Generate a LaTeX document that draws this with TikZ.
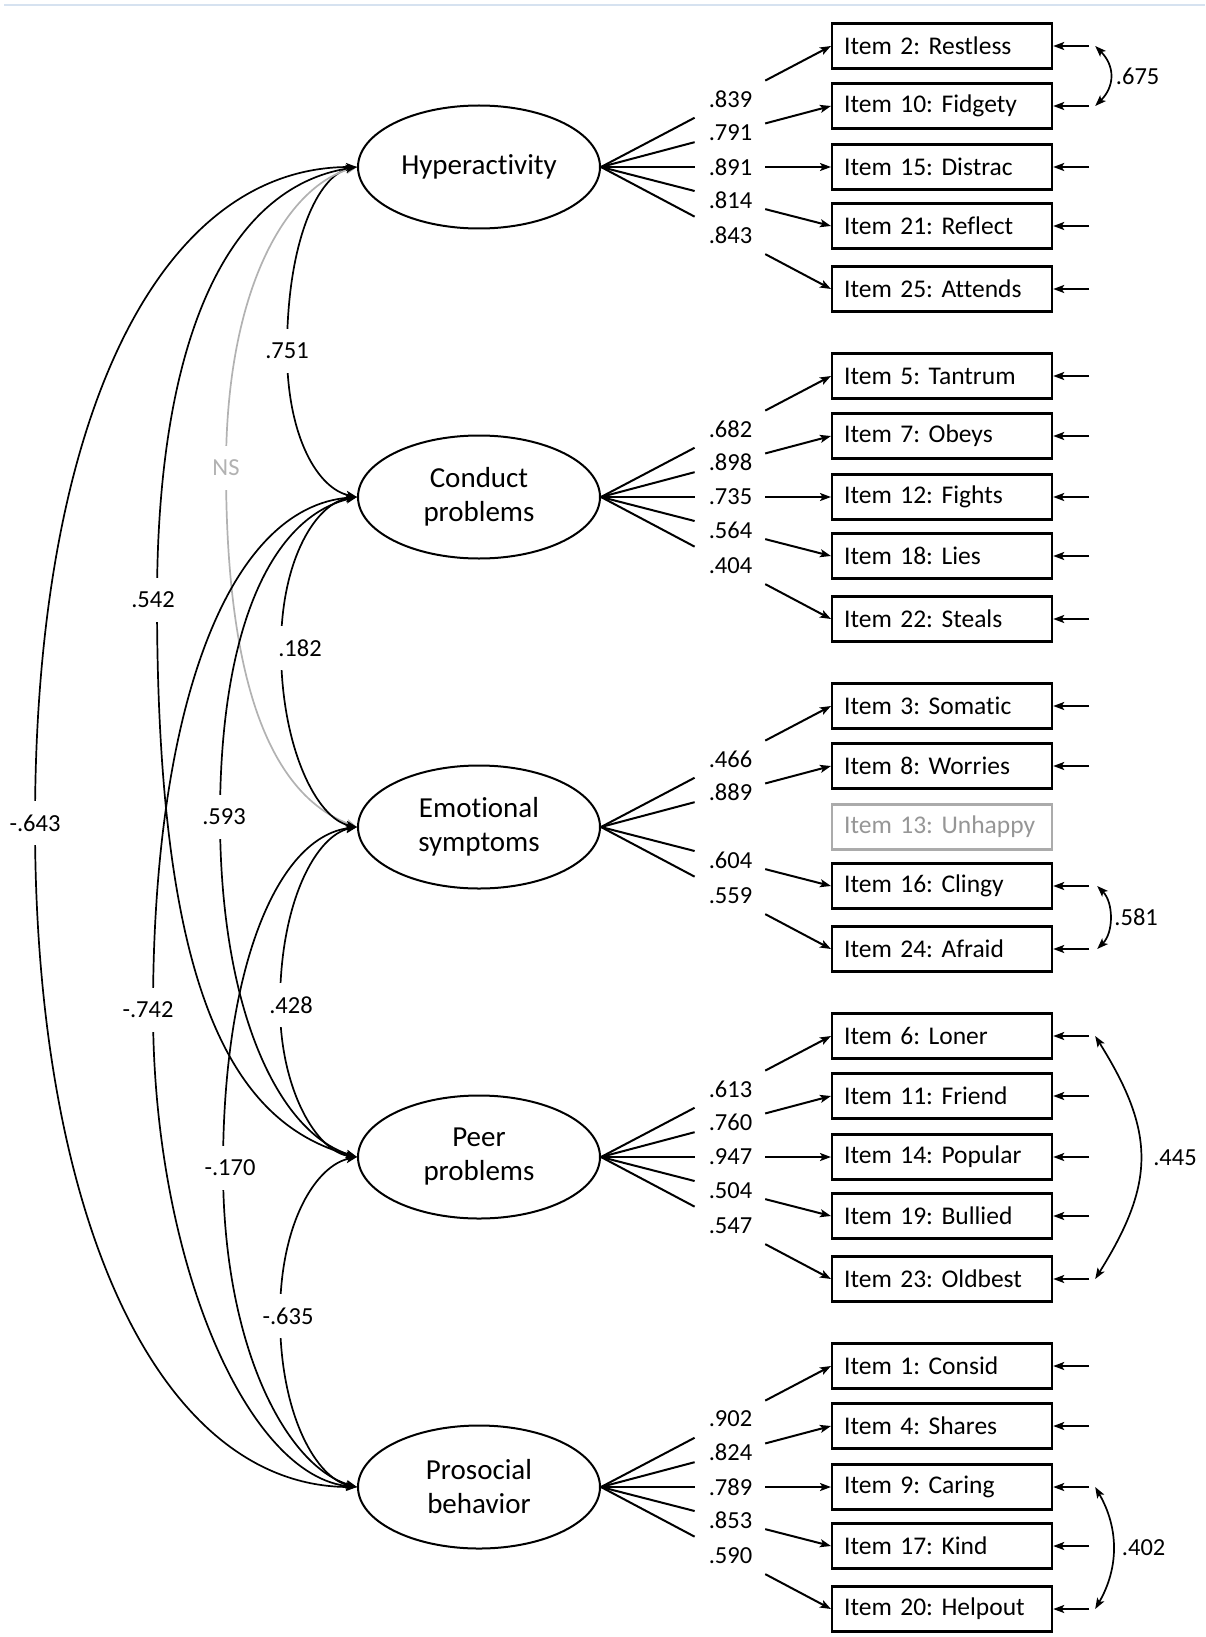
\documentclass[tikz,border=0pt]{standalone}
\usepackage{fontspec}
\setmainfont{Carlito}[Ligatures=NoCommon]
\usetikzlibrary{arrows.meta,shapes.geometric,calc}
\definecolor{rulecol}{RGB}{214,226,240}
\definecolor{nsgray}{RGB}{178,178,178}
\definecolor{ghostgray}{RGB}{150,150,150}
\frenchspacing
\begin{document}
\frenchspacing
\begin{tikzpicture}[x=1pt,y=-1pt,
  >={Stealth[length=11pt,width=8pt,inset=2.5pt]},
  lat/.style={ellipse, draw, line width=2pt, minimum width=242pt, minimum height=123pt,
    inner sep=0pt, align=center, font=\fontsize{29}{34}\selectfont},
  itm/.style={rectangle, draw, line width=2.2pt, minimum height=45pt, text width=196pt,
    inner xsep=12pt, inner ysep=0pt, align=left, anchor=west,
    font=\fontsize{25.5}{30}\selectfont\frenchspacing},
  ghost/.style={itm, draw=ghostgray!80, text=ghostgray},
  ld/.style={line width=2pt},
  err/.style={line width=2pt, ->},
  lv/.style={font=\fontsize{24.5}{28}\selectfont, inner sep=0pt},
  cov/.style={line width=1.7pt, <->},
  clab/.style={fill=white, font=\fontsize{24.5}{28}\selectfont, inner xsep=4pt, inner ysep=0pt, minimum height=44pt},
]
\useasboundingbox (0,0) rectangle (1205,1637);
\draw[line width=1.5pt, rulecol] (4,5) -- (1205,5);

% latent factors
\node[lat] (H) at (479,167)  {Hyperactivity};
\node[lat] (C) at (479,497)  {Conduct\\problems};
\node[lat] (E) at (479,827)  {Emotional\\symptoms};
\node[lat] (P) at (479,1157) {Peer\\problems};
\node[lat] (S) at (479,1487) {Prosocial\\behavior};

% items
\node[itm] (i2)  at (831,46)  {Item 2: Restless};
\node[itm] (i10) at (831,106) {Item 10: Fidgety};
\node[itm] (i15) at (831,167) {Item 15: Distrac};
\node[itm] (i21) at (831,226) {Item 21: Reflect};
\node[itm] (i25) at (831,289) {Item 25: Attends};

\node[itm] (i5)  at (831,376) {Item 5: Tantrum};
\node[itm] (i7)  at (831,436) {Item 7: Obeys};
\node[itm] (i12) at (831,497) {Item 12: Fights};
\node[itm] (i18) at (831,556) {Item 18: Lies};
\node[itm] (i22) at (831,619) {Item 22: Steals};

\node[itm] (i3)  at (831,706) {Item 3: Somatic};
\node[itm] (i8)  at (831,766) {Item 8: Worries};
\node[ghost] (i13) at (831,827) {Item 13: Unhappy};
\node[itm] (i16) at (831,886) {Item 16: Clingy};
\node[itm] (i24) at (831,949) {Item 24: Afraid};

\node[itm] (i6)  at (831,1036) {Item 6: Loner};
\node[itm] (i11) at (831,1096) {Item 11: Friend};
\node[itm] (i14) at (831,1157) {Item 14: Popular};
\node[itm] (i19) at (831,1216) {Item 19: Bullied};
\node[itm] (i23) at (831,1279) {Item 23: Oldbest};

\node[itm] (i1)  at (831,1366) {Item 1: Consid};
\node[itm] (i4)  at (831,1426) {Item 4: Shares};
\node[itm] (i9)  at (831,1487) {Item 9: Caring};
\node[itm] (i17) at (831,1546) {Item 17: Kind};
\node[itm] (i20) at (831,1609) {Item 20: Helpout};

% factor loadings
\foreach \f/\i/\v in {H/i2/.839, H/i10/.791, H/i15/.891, H/i21/.814, H/i25/.843,
                      C/i5/.682, C/i7/.898, C/i12/.735, C/i18/.564, C/i22/.404,
                      E/i3/.466, E/i8/.889, E/i16/.604, E/i24/.559,
                      P/i6/.613, P/i11/.760, P/i14/.947, P/i19/.504, P/i23/.547,
                      S/i1/.902, S/i4/.824, S/i9/.789, S/i17/.853, S/i20/.590}{
  \draw[ld] (\f.east) -- ($(\f.east)!0.407!(\i.west)$);
  \draw[ld,->] ($(\f.east)!0.714!(\i.west)$) -- (\i.west);
  \node[lv] at ($(\f.east)!0.563!(\i.west)$) {\v};
}

% error terms
\foreach \i in {i2,i10,i15,i21,i25,i5,i7,i12,i18,i22,i3,i8,i16,i24,i6,i11,i14,i19,i23,i1,i4,i9,i17,i20}{
  \coordinate (r\i) at ($(\i.east)+(36,0)$);
  \draw[err] (r\i) -- (\i.east);
}

% correlated errors
\draw[cov] ([xshift=6pt]ri2) to[out=-45,in=45,looseness=1.2] node[lv, right=5pt] {.675} ([xshift=6pt]ri10);
\draw[cov] ([xshift=8pt]ri16) to[out=-45,in=45,looseness=0.95] node[lv, right=4pt] {.581} ([xshift=8pt]ri24);
\draw[cov] ([xshift=6pt]ri6) to[out=-58,in=58,looseness=1.2] node[lv, right=12pt] {.445} ([xshift=6pt]ri23);
\draw[cov] ([xshift=6pt]ri9) to[out=-60,in=60,looseness=1.0] node[lv, right=8pt] {.402} ([xshift=6pt]ri20);

% factor covariances
\coordinate (w1) at (287,351);
\draw[cov] (H.west) .. controls ($(H.west)+(-39,8)$) and ($(w1)+(0,-110)$) .. (w1) node[clab] {.751}
  .. controls ($(w1)+(0,86)$) and ($(C.west)+(-39,-8)$) .. (C.west);

\coordinate (w2) at (226,468);
\draw[cov, nsgray] (H.west) .. controls ($(H.west)+(-70,20)$) and ($(w2)+(0,-180)$) .. (w2) node[clab, text=nsgray] {NS}
  .. controls ($(w2)+(0,230)$) and ($(E.west)+(-80,-30)$) .. (E.west);

\coordinate (w3) at (157,600);
\draw[cov] (H.west) .. controls ($(H.west)+(-130,20)$) and ($(w3)+(0,-260)$) .. (w3) node[clab, xshift=-4pt] {.542}
  .. controls ($(w3)+(0,380)$) and ($(P.west)+(-130,-35)$) .. (P.west);

\coordinate (w4) at (35,823);
\draw[cov] (H.west) .. controls ($(H.west)+(-197,0)$) and ($(w4)+(0,-407)$) .. (w4) node[clab] {-.643}
  .. controls ($(w4)+(0,398)$) and ($(S.west)+(-197,0)$) .. (S.west);

\coordinate (w5) at (281,648);
\draw[cov] (C.west) .. controls ($(C.west)+(-40,5)$) and ($(w5)+(0,-90)$) .. (w5) node[clab, xshift=19pt] {.182}
  .. controls ($(w5)+(0,100)$) and ($(E.west)+(-40,-8)$) .. (E.west);

\coordinate (w6) at (220,817);
\draw[cov] (C.west) .. controls ($(C.west)+(-85,20)$) and ($(w6)+(0,-190)$) .. (w6) node[clab, xshift=4pt] {.593}
  .. controls ($(w6)+(0,190)$) and ($(P.west)+(-80,-25)$) .. (P.west);

\coordinate (w7) at (153,1010);
\draw[cov] (C.west) .. controls ($(C.west)+(-130,10)$) and ($(w7)+(0,-300)$) .. (w7) node[clab, xshift=-5pt] {-.742}
  .. controls ($(w7)+(0,250)$) and ($(S.west)+(-110,-10)$) .. (S.west);

\coordinate (w8) at (280,1005);
\draw[cov] (E.west) .. controls ($(E.west)+(-40,8)$) and ($(w8)+(0,-105)$) .. (w8) node[clab, xshift=11pt] {.428}
  .. controls ($(w8)+(0,85)$) and ($(P.west)+(-40,-5)$) .. (P.west);

\coordinate (w9) at (223,1168);
\draw[cov] (E.west) .. controls ($(E.west)+(-80,10)$) and ($(w9)+(0,-200)$) .. (w9) node[clab, xshift=7pt] {-.170}
  .. controls ($(w9)+(0,180)$) and ($(S.west)+(-70,-20)$) .. (S.west);

\coordinate (w10) at (280,1316);
\draw[cov] (P.west) .. controls ($(P.west)+(-40,8)$) and ($(w10)+(0,-95)$) .. (w10) node[clab, xshift=8pt] {-.635}
  .. controls ($(w10)+(0,100)$) and ($(S.west)+(-40,-8)$) .. (S.west);
\end{tikzpicture}
\end{document}
